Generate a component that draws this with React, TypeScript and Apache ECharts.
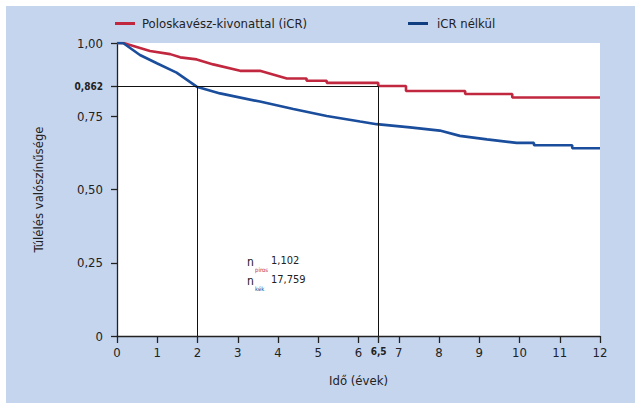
import React, { useEffect, useRef } from "react";
import * as echarts from "echarts";

const redName = "Poloskavész-kivonattal (iCR)";
const blueName = "iCR nélkül";

const redSurvival: [number, number][] = [
  [0, 1], [0.16, 1.0], [0.82, 0.973], [1.32, 0.962], [1.57, 0.951], [1.98, 0.944],
  [2.39, 0.927], [3.06, 0.905], [3.55, 0.905], [4.22, 0.879], [4.71, 0.879],
  [4.71, 0.871], [5.21, 0.871], [5.21, 0.864], [6.49, 0.864], [6.49, 0.853],
  [7.18, 0.853], [7.18, 0.836], [8.65, 0.836], [8.65, 0.826], [9.82, 0.826],
  [9.82, 0.814], [12, 0.814],
];

const blueSurvival: [number, number][] = [
  [0, 1], [0.16, 0.999], [0.57, 0.959], [0.99, 0.931], [1.48, 0.899], [1.98, 0.851],
  [2.56, 0.828], [3.55, 0.8], [4.38, 0.775], [5.21, 0.751], [6.04, 0.732],
  [6.45, 0.723], [7.28, 0.712], [8.02, 0.701], [8.52, 0.683], [9.19, 0.671],
  [9.93, 0.659], [10.36, 0.659], [10.36, 0.651], [11.31, 0.651], [11.31, 0.641],
  [12, 0.641],
];

const xTicks = [0, 1, 2, 3, 4, 5, 6, 6.5, 7, 8, 9, 10, 11, 12];
const yTicks = [0, 0.25, 0.5, 0.75, 0.851, 1];
const yTickLabels = ["0", "0,25", "0,50", "0,75", "0,862", "1,00"];
const refLevel = 0.851;
const refLevelLabel = "0,862";
const refTimes = [2, 6.5];
const nRed = "1,102";
const nBlue = "17,759";

const FONT = '"Liberation Sans Narrow", "DejaVu Sans Condensed", "Noto Sans", sans-serif';
const RED = "#c1283f";
const BLUE = "#1a4d9c";
const BG = "#c6d5ee";

export default function App() {
  const ref = useRef<HTMLDivElement>(null);
  useEffect(() => {
    if (!ref.current) return;
    const chart = echarts.init(ref.current, undefined, { renderer: "svg" });
    const ox = 6, oy = 6;
    const option: any = {
      animation: false,
      backgroundColor: BG,
      textStyle: { fontFamily: FONT },
      grid: {
        left: 117 - ox, top: 43 - oy, right: 635 - 600, bottom: 403 - 336,
        show: true, backgroundColor: "#ffffff", borderWidth: 0,
      },
      legend: [
        {
          left: 115 - ox, top: 17 - oy, padding: 0, icon: "rect", itemWidth: 20, itemHeight: 3,
          textStyle: { fontFamily: FONT, fontSize: 13, color: "#222", padding: [0, 0, 0, 2] },
          data: [{ name: redName, itemStyle: { color: RED } }],
        },
        {
          left: 408 - ox, top: 17 - oy, padding: 0, icon: "rect", itemWidth: 20, itemHeight: 3,
          textStyle: { fontFamily: FONT, fontSize: 13, color: "#222", padding: [0, 0, 0, 4] },
          data: [{ name: blueName, itemStyle: { color: "#0f3f80" } }],
        },
      ],
      xAxis: {
        type: "value", min: 0, max: 12,
        name: "Idő (évek)", nameLocation: "middle", nameGap: 38,
        nameTextStyle: { fontFamily: FONT, fontSize: 13, color: "#222" },
        axisLine: { show: true, onZero: false, lineStyle: { color: "#222", width: 1.3 } },
        axisTick: { show: true, length: 7, customValues: xTicks, lineStyle: { color: "#222", width: 1.3 } },
        axisLabel: {
          customValues: xTicks, fontFamily: FONT, fontSize: 13, color: "#222", margin: 10,
          formatter: (v: number) => (v === 6.5 ? "{s|6,5}" : String(v)),
          rich: { s: { fontFamily: FONT, fontSize: 10, fontWeight: "bold", color: "#222", padding: [0, 0, 8, 0] } },
        },
        splitLine: { show: false },
      },
      yAxis: {
        type: "value", min: 0, max: 1,
        name: "Túlélés valószínűsége", nameLocation: "middle", nameGap: 72,
        nameTextStyle: { fontFamily: FONT, fontSize: 13, color: "#222" },
        axisLine: { show: true, lineStyle: { color: "#222", width: 1.3 } },
        axisTick: { show: true, length: 6, customValues: yTicks, lineStyle: { color: "#222", width: 1.3 } },
        axisLabel: {
          customValues: yTicks, fontFamily: FONT, fontSize: 13, color: "#222", margin: 14,
          formatter: (v: number) => {
            const i = yTicks.findIndex((t) => Math.abs(t - v) < 1e-6);
            const s = i >= 0 ? yTickLabels[i] : String(v);
            return v === refLevel ? "{s|" + refLevelLabel + "}" : s;
          },
          rich: { s: { fontFamily: FONT, fontSize: 10, fontWeight: "bold", color: "#222" } },
        },
        splitLine: { show: false },
      },
      series: [
        {
          name: redName, type: "line", data: redSurvival, showSymbol: false, symbol: "none",
          lineStyle: { color: RED, width: 2.6 }, itemStyle: { color: RED }, z: 3,
          markLine: {
            silent: true, symbol: "none", label: { show: false },
            lineStyle: { color: "#111", width: 1, type: "solid" },
            data: [
              [{ coord: [0, refLevel] }, { coord: [refTimes[1], refLevel] }],
              ...refTimes.map((t) => [{ coord: [t, 0] }, { coord: [t, refLevel] }]),
            ],
          },
        },
        {
          name: blueName, type: "line", data: blueSurvival, showSymbol: false, symbol: "none",
          lineStyle: { color: BLUE, width: 2.6 }, itemStyle: { color: BLUE }, z: 4,
        },
      ],
      graphic: [
        { type: "text", left: 247 - ox, top: 256 - oy, style: { text: "n", fontFamily: FONT, fontSize: 12, fill: "#222" } },
        { type: "text", left: 255 - ox, top: 266 - oy, style: { text: "piros", fontFamily: FONT, fontSize: 6, fill: RED } },
        { type: "text", left: 271 - ox, top: 255 - oy, style: { text: nRed, fontFamily: FONT, fontSize: 11, fill: "#222" } },
        { type: "text", left: 247 - ox, top: 275 - oy, style: { text: "n", fontFamily: FONT, fontSize: 12, fill: "#222" } },
        { type: "text", left: 255 - ox, top: 285 - oy, style: { text: "kék", fontFamily: FONT, fontSize: 6, fill: BLUE } },
        { type: "text", left: 271 - ox, top: 274 - oy, style: { text: nBlue, fontFamily: FONT, fontSize: 11, fill: "#222" } },
      ],
    };
    chart.setOption(option);
    return () => chart.dispose();
  }, []);
  return (
    <div style={{ position: "fixed", left: 0, top: 0, width: 635, height: 403, background: "#fff" }}>
      <div ref={ref} style={{ position: "absolute", left: 6, top: 6, width: 629, height: 397 }} />
    </div>
  );
}
